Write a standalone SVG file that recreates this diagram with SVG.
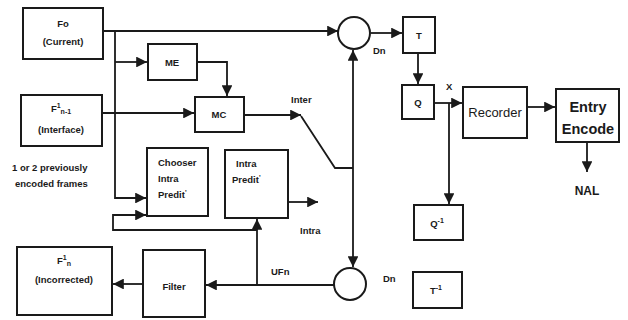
<svg xmlns="http://www.w3.org/2000/svg" width="628" height="320" viewBox="0 0 628 320">
<style>
.box{fill:#fff;stroke:#1a1a1a;stroke-width:2}
.ln{fill:none;stroke:#1a1a1a;stroke-width:1.8}
.t{font-family:"Liberation Sans",Arial,sans-serif;font-weight:bold;font-size:9.5px;fill:#1a1a1a}
.c{text-anchor:middle}
.big{font-family:"Liberation Sans",Arial,sans-serif;fill:#1a1a1a;text-anchor:middle}
</style>
<defs>
<marker id="ah" viewBox="0 0 10 10" refX="10" refY="5" markerWidth="6.5" markerHeight="6" orient="auto" markerUnits="strokeWidth">
<path d="M0,0 L10,5 L0,10 z" fill="#1a1a1a"/>
</marker>
</defs>
<rect width="628" height="320" fill="#fff"/>

<g id="connectors">
<path class="ln" d="M103 31 H338" marker-end="url(#ah)"/>
<path class="ln" d="M115 31 V198 H146" marker-end="url(#ah)"/>
<path class="ln" d="M115 62 H147" marker-end="url(#ah)"/>
<path class="ln" d="M197 62 H227 V96" marker-end="url(#ah)"/>
<path class="ln" d="M102 113 H194" marker-end="url(#ah)"/>
<path class="ln" d="M244 115 H301" marker-end="url(#ah)"/>
<path class="ln" d="M301 116 L335 168 H353"/>
<path class="ln" d="M353 168 V50" marker-end="url(#ah)"/>
<path class="ln" d="M353 168 V267" marker-end="url(#ah)"/>
<path class="ln" d="M288 202 H318" marker-end="url(#ah)"/>
<path class="ln" d="M371 33 H402" marker-end="url(#ah)"/>
<path class="ln" d="M418 53 V84" marker-end="url(#ah)"/>
<path class="ln" d="M434 103 H462" marker-end="url(#ah)"/>
<path class="ln" d="M449 103 V204" marker-end="url(#ah)"/>
<path class="ln" d="M527 107 H555" marker-end="url(#ah)"/>
<path class="ln" d="M587 142 V172" marker-end="url(#ah)"/>
<path class="ln" d="M337 285 H206" marker-end="url(#ah)"/>
<path class="ln" d="M257 285 V219" marker-end="url(#ah)"/>
<path class="ln" d="M257 230 H113 V215 H146" marker-end="url(#ah)"/>
<path class="ln" d="M143 284 H113" marker-end="url(#ah)"/>
</g>

<g id="fo">
<rect class="box" x="23" y="8" width="80" height="51"/>
<text class="t c" x="63" y="27">Fo</text>
<text class="t c" x="63" y="45">(Current)</text>
</g>
<g id="fn1">
<rect class="box" x="21" y="95" width="81" height="51"/>
<text class="t c" x="61" y="112">F<tspan font-size="7" dy="-4">1</tspan><tspan font-size="7" dy="6">n-1</tspan></text>
<text class="t c" x="61" y="133">(Interface)</text>
</g>
<g id="me">
<rect class="box" x="148" y="44" width="49" height="36"/>
<text class="t c" x="172" y="66">ME</text>
</g>
<g id="mc">
<rect class="box" x="195" y="97" width="49" height="35"/>
<text class="t c" x="219" y="118">MC</text>
</g>
<g id="prev">
<text class="t" x="12" y="171">1 or 2 previously</text>
<text class="t" x="15" y="187">encoded frames</text>
</g>
<g id="chooser">
<rect class="box" x="147" y="148" width="61" height="68"/>
<text class="t" x="158" y="166">Chooser</text>
<text class="t" x="158" y="182">Intra</text>
<text class="t" x="158" y="198">Predit<tspan font-size="7" dy="-3">'</tspan></text>
</g>
<g id="intrapred">
<rect class="box" x="225" y="150" width="63" height="68"/>
<text class="t" x="236" y="167">Intra</text>
<text class="t" x="232" y="183">Predit<tspan font-size="7" dy="-3">'</tspan></text>
</g>
<g id="fn">
<rect class="box" x="17" y="247" width="95" height="68"/>
<text class="t c" x="64" y="264">F<tspan font-size="7" dy="-4">1</tspan><tspan font-size="7" dy="6">n</tspan></text>
<text class="t c" x="64" y="283">(Incorrected)</text>
</g>
<g id="filter">
<rect class="box" x="143" y="250" width="62" height="67"/>
<text class="t c" x="174" y="290">Filter</text>
</g>
<g id="sum1">
<circle class="box" cx="354" cy="33" r="16"/>
</g>
<g id="sum2">
<circle class="box" cx="350" cy="284" r="16"/>
</g>
<g id="t">
<rect class="box" x="403" y="17" width="32" height="36"/>
<text class="t c" x="419" y="39">T</text>
</g>
<g id="q">
<rect class="box" x="402" y="85" width="32" height="34"/>
<text class="t c" x="418" y="106">Q</text>
</g>
<g id="qinv">
<rect class="box" x="414" y="205" width="49" height="35"/>
<text class="t c" x="437" y="227">Q<tspan font-size="7" dy="-4">-1</tspan></text>
</g>
<g id="tinv">
<rect class="box" x="413" y="272" width="49" height="36"/>
<text class="t c" x="436" y="294">T<tspan font-size="7" dy="-4">-1</tspan></text>
</g>
<g id="recorder">
<rect class="box" x="463" y="87" width="64" height="51"/>
<text class="big" x="495" y="117" font-size="13">Recorder</text>
</g>
<g id="entry">
<rect class="box" x="556" y="89" width="63" height="53"/>
<text class="big" x="588" y="112" font-size="14.5" font-weight="bold">Entry</text>
<text class="big" x="588" y="134" font-size="14.5" font-weight="bold">Encode</text>
</g>
<g id="labels">
<text class="t" x="291" y="103">Inter</text>
<text class="t" x="300" y="234">Intra</text>
<text class="t" x="271" y="275">UFn</text>
<text class="t" x="446" y="90">X</text>
<text class="t" x="373" y="54">Dn</text>
<text class="t" x="383" y="282">Dn</text>
<text class="big" x="587" y="195" font-size="12" font-weight="bold">NAL</text>
</g>
</svg>
